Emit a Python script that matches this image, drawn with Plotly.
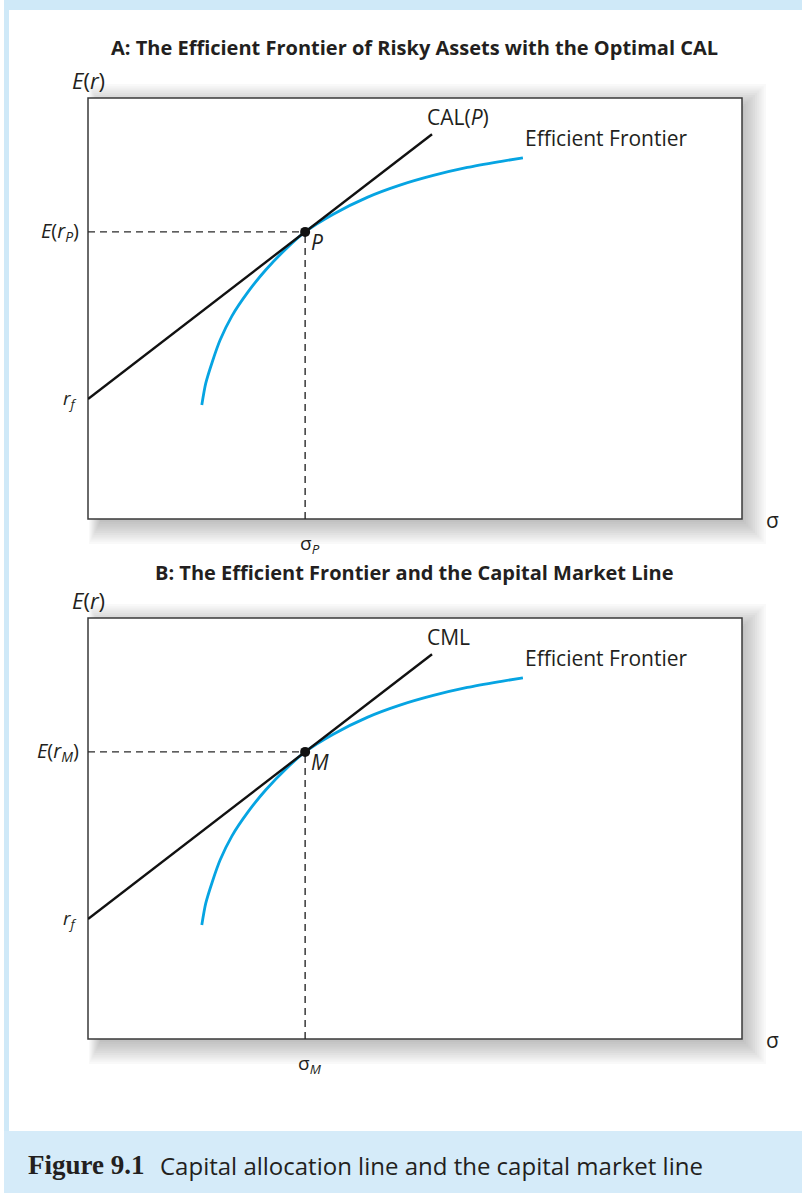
"""
Figure 9.1 -- Capital allocation line and the capital market line.
Two stacked panels: efficient frontier of risky assets with the optimal CAL,
and the same frontier with the CML.
"""

import plotly.graph_objects as go

# ---------------------------------------------------------------------------
# Data (stylised units, both axes 0..10)
# ---------------------------------------------------------------------------

frontier_sigma = [1.74, 1.80, 1.90, 2.02, 2.20, 2.45, 2.72, 3.03, 3.32,
                  3.75, 4.27, 4.77, 5.28, 5.80, 6.30, 6.65]
frontier_er = [2.71, 3.22, 3.73, 4.25, 4.82, 5.40, 5.92, 6.42, 6.82,
               7.24, 7.64, 7.93, 8.16, 8.35, 8.49, 8.58]

risk_free = 2.85
tangent_sigma = 3.32
tangent_er = 6.82
line_end_sigma = 5.26

panel_titles = [
    "A: The Efficient Frontier of Risky Assets with the Optimal CAL",
    "B: The Efficient Frontier and the Capital Market Line",
]
line_labels = ["CAL(<i>P</i>)", "CML"]
point_labels = ["P", "M"]

# ---------------------------------------------------------------------------
# Layout helpers
# ---------------------------------------------------------------------------

W, H = 802, 1193
FONT = "Open Sans"
INK = "#231f20"
BLUE = "#06a4e2"
FRAME = "#cfe9f8"
CAPTION_BG = "#d5ebf9"


def px(x):
    return x / W


def py(y):
    return 1 - y / H


slope = (tangent_er - risk_free) / tangent_sigma
line_sigma = [0, tangent_sigma, line_end_sigma]
line_er = [risk_free + slope * s for s in line_sigma]

fig = go.Figure()
shapes = []
annotations = []

# page frame + caption band
shapes += [
    dict(type="rect", xref="paper", yref="paper", x0=px(4), x1=1, y0=py(10), y1=1,
         fillcolor=FRAME, line_width=0, layer="below"),
    dict(type="rect", xref="paper", yref="paper", x0=px(4), x1=px(9), y0=py(1131), y1=1,
         fillcolor=FRAME, line_width=0, layer="below"),
    dict(type="rect", xref="paper", yref="paper", x0=px(4), x1=1, y0=0, y1=py(1131),
         fillcolor=CAPTION_BG, line_width=0, layer="below"),
]

box_left, box_right = 88, 742
panel_tops = [98, 618]
title_ys = [47, 572]
panel_height = 421

for i, top in enumerate(panel_tops):
    bottom = top + panel_height
    sfx = "" if i == 0 else str(i + 1)
    xa, ya = "x" + sfx, "y" + sfx

    # soft drop shadow, mostly to the right and below
    for k in range(11):
        e = 2.2 * k
        shapes.append(dict(
            type="rect", xref="paper", yref="paper",
            x0=px(box_left + 12 - 0.5 * e), x1=px(box_right + 2 + e),
            y0=py(bottom + 3 + e), y1=py(top + 8 - e),
            fillcolor="rgba(0,0,0,0.022)", line_width=0, layer="below"))
    shapes.append(dict(
        type="rect", xref="paper", yref="paper",
        x0=px(box_left), x1=px(box_right), y0=py(bottom), y1=py(top),
        fillcolor="white", line=dict(color="#3a3a3a", width=1.5), layer="below"))

    fig.add_trace(go.Scatter(
        x=[0, tangent_sigma], y=[tangent_er, tangent_er], mode="lines",
        line=dict(color="#2a2a2a", width=1.4, dash="7px,5px"),
        xaxis=xa, yaxis=ya, hoverinfo="skip"))
    fig.add_trace(go.Scatter(
        x=[tangent_sigma, tangent_sigma], y=[0, tangent_er], mode="lines",
        line=dict(color="#2a2a2a", width=1.4, dash="7px,5px"),
        xaxis=xa, yaxis=ya, hoverinfo="skip"))
    fig.add_trace(go.Scatter(
        x=frontier_sigma, y=frontier_er, mode="lines",
        line=dict(color=BLUE, width=2.8, shape="spline", smoothing=0.7),
        xaxis=xa, yaxis=ya, hoverinfo="skip"))
    fig.add_trace(go.Scatter(
        x=line_sigma, y=line_er, mode="lines",
        line=dict(color="#111111", width=2.4),
        xaxis=xa, yaxis=ya, hoverinfo="skip"))
    fig.add_trace(go.Scatter(
        x=[tangent_sigma], y=[tangent_er], mode="markers",
        marker=dict(color="#111111", size=10),
        xaxis=xa, yaxis=ya, hoverinfo="skip"))

    dom_y = [py(bottom), py(top)]
    fig.layout["xaxis" + sfx] = dict(domain=[px(box_left), px(box_right)], range=[0, 10],
                                     visible=False, fixedrange=True, anchor=ya)
    fig.layout["yaxis" + sfx] = dict(domain=dom_y, range=[0, 10],
                                     visible=False, fixedrange=True, anchor=xa)

    sub = point_labels[i]
    txt = dict(family=FONT, size=21, color=INK)
    annotations += [
        dict(text="<b>" + panel_titles[i] + "</b>", xref="paper", yref="paper",
             x=px(414), y=py(title_ys[i]), xanchor="center", yanchor="middle",
             font=dict(family=FONT, size=20, color=INK)),
        dict(text="<i>E</i>(<i>r</i>)", xref="paper", yref="paper",
             x=px(88), y=py(top - 18), xanchor="center", yanchor="middle",
             font=dict(family=FONT, size=22, color=INK)),
        dict(text=line_labels[i], xref=xa, yref=ya, x=line_end_sigma, y=line_er[-1],
             xanchor="left", yanchor="bottom", xshift=-7, yshift=1, font=txt),
        dict(text="Efficient Frontier", xref=xa, yref=ya,
             x=frontier_sigma[-1], y=frontier_er[-1],
             xanchor="left", yanchor="bottom", xshift=0, yshift=4, font=txt),
        dict(text="<i>" + sub + "</i>", xref=xa, yref=ya, x=tangent_sigma, y=tangent_er,
             xanchor="left", yanchor="middle", xshift=4, yshift=-10,
             font=dict(family=FONT, size=21, color=INK)),
        dict(text="<i>E</i>(<i>r</i><sub><i>" + sub + "</i></sub>)", xref=xa, yref=ya,
             x=0, y=tangent_er, xanchor="right", yanchor="middle", xshift=-7,
             font=dict(family=FONT, size=20, color=INK)),
        dict(text="<i>r</i><sub><i>f</i></sub>", xref=xa, yref=ya,
             x=0, y=risk_free, xanchor="right", yanchor="middle", xshift=-9,
             font=dict(family=FONT, size=19, color=INK)),
        dict(text="σ<sub><i>" + sub + "</i></sub>", xref=xa, yref=ya,
             x=tangent_sigma, y=0, xanchor="center", yanchor="top", xshift=5, yshift=-9,
             font=dict(family=FONT, size=19, color=INK)),
        dict(text="σ", xref="paper", yref="paper", x=px(772), y=py(bottom + 1),
             xanchor="center", yanchor="middle",
             font=dict(family=FONT, size=21, color=INK)),
    ]

for a in annotations:
    a["showarrow"] = False

# caption
annotations += [
    dict(text="<b>Figure 9.1</b>", xref="paper", yref="paper", x=px(26), y=py(1165),
         xanchor="left", yanchor="middle", showarrow=False,
         font=dict(family="Liberation Serif", size=27, color=INK)),
    dict(text="Capital allocation line and the capital market line", xref="paper",
         yref="paper", x=px(158), y=py(1165), xanchor="left", yanchor="middle",
         showarrow=False, font=dict(family=FONT, size=24, color=INK)),
]

fig.update_layout(
    width=W, height=H,
    margin=dict(l=0, r=0, t=0, b=0),
    paper_bgcolor="white",
    plot_bgcolor="rgba(0,0,0,0)",
    showlegend=False,
    shapes=shapes,
    annotations=annotations,
)

fig.write_html("out.html", config={"displayModeBar": False},
               post_script="document.body.style.margin='0';")
